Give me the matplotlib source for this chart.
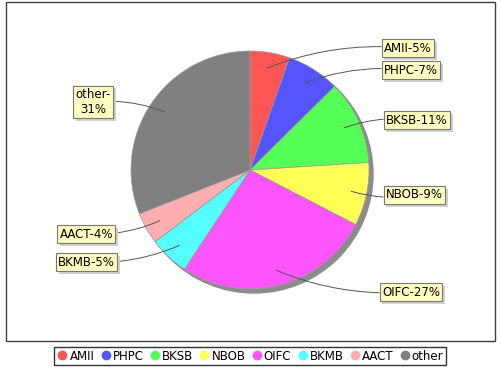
import numpy as np
import matplotlib
matplotlib.use("Agg")
import matplotlib.pyplot as plt
import matplotlib.patheffects as pe
from matplotlib.patches import Circle, Rectangle
from matplotlib.lines import Line2D

# data
names = ['AMII', 'PHPC', 'BKSB', 'NBOB', 'OIFC', 'BKMB', 'AACT', 'other']
shares = [5.4, 7.2, 11.4, 8.6, 26.7, 5.4, 4.3, 31.0]
colors = ['#FF5555', '#5555FF', '#55FF55', '#FFFF55', '#FF55FF', '#55FFFF', '#FFAFAF', '#808080']
# label box anchor (left/right edge x, centre y) in pixels from top-left
label_pos = [(384, 48), (384, 70), (386, 120), (386, 195), (382, 292),
             (115, 262), (113, 234), (111, 102)]

W, H = 500, 370
fig = plt.figure(figsize=(W / 100, H / 100), dpi=100)
ax = fig.add_axes([0, 0, 1, 1])

cx, cy, R = 250, H - 170, 119

# plot border
ax.add_patch(Rectangle((5.5, H - 341), 489, 339, fill=False, ec='#404040', lw=1.0))

# shadow
ax.add_patch(Circle((cx + 4, cy - 4), R, color='#8c8c8c', zorder=1))

wedges, _ = ax.pie(shares, colors=colors, startangle=90, counterclock=False,
                   center=(cx, cy), radius=R, frame=True,
                   wedgeprops=dict(edgecolor='#9a9a9a', linewidth=0.5, zorder=2))
ax.set_xlim(0, W)
ax.set_ylim(0, H)
ax.axis('off')

total = sum(shares)
for w, name, v, (lx, ly) in zip(wedges, names, shares, label_pos):
    mid = np.deg2rad((w.theta1 + w.theta2) / 2)
    ax_pt = (cx + 0.87 * R * np.cos(mid), cy + 0.87 * R * np.sin(mid))
    pct = round(v / total * 100)
    right = lx > cx
    if name == 'other':
        txt = f"{name}-\n{pct}%"
    else:
        txt = f"{name}-{pct}%"
    rad = 0.12 if right else -0.12
    if np.sin(mid) < 0:
        rad = -rad
    t = ax.annotate(txt, xy=ax_pt, xytext=(lx, H - ly), fontsize=8.5,
                    ha='left' if right else 'right', va='center', color='black',
                    multialignment='center',
                    bbox=dict(boxstyle='square,pad=0.2', fc='#FFFFC0', ec='#777777', lw=0.8),
                    arrowprops=dict(arrowstyle='-', color='#555555', lw=0.7,
                                    connectionstyle=f'arc3,rad={rad}', shrinkA=0, shrinkB=0),
                    zorder=5)
    t.get_bbox_patch().set_path_effects([
        pe.SimplePatchShadow(offset=(2, -2), shadow_rgbFace='#d0d0d0', alpha=1),
        pe.Normal()])

handles = [Line2D([], [], marker='o', ls='', color=c, markersize=6) for c in colors]
leg = fig.legend(handles, names, loc='center', bbox_to_anchor=(0.5, 1 - 356 / H),
                 ncol=len(names), fontsize=8.5, frameon=True, fancybox=False,
                 handletextpad=0.1, columnspacing=0.45, borderpad=0.25,
                 handlelength=1.0, borderaxespad=0)
leg.get_frame().set_edgecolor('black')
leg.get_frame().set_linewidth(1.0)

fig.savefig('out.png', dpi=100)
